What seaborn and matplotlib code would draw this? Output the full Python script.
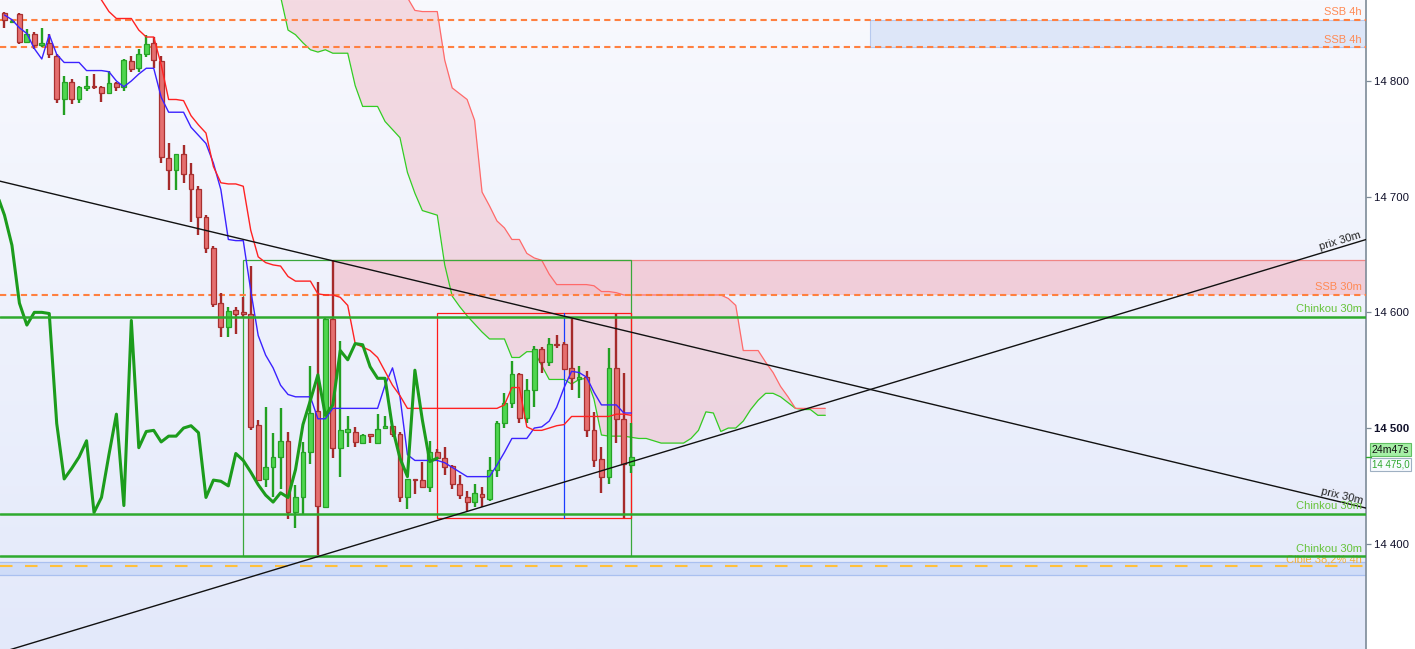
import numpy as np
import pandas as pd
import matplotlib
matplotlib.use("Agg")
import matplotlib.pyplot as plt
import seaborn as sns
from matplotlib.colors import LinearSegmentedColormap
from matplotlib.patches import Rectangle

# ---------------- data ----------------
candle_open = [14859, 14851, 14858, 14834, 14841, 14831, 14833, 14822, 14784, 14799,
               14784, 14794, 14796, 14795, 14790, 14798, 14795, 14817, 14811, 14823,
               14833, 14817, 14733, 14723, 14737, 14720, 14707, 14682, 14656, 14608,
               14587, 14602, 14600, 14599, 14503, 14456, 14466, 14475, 14489, 14427,
               14440, 14479, 14515, 14432, 14594, 14483, 14497, 14497, 14487, 14495,
               14487, 14500, 14502, 14495, 14440, 14456, 14455, 14449, 14479, 14474,
               14467, 14452, 14440, 14436, 14443, 14439, 14464, 14504, 14522, 14547,
               14509, 14533, 14568, 14557, 14573, 14573, 14552, 14542, 14544, 14498,
               14473, 14458, 14552, 14508, 14468]
candle_high = [14860, 14853, 14859, 14845, 14842, 14846, 14841, 14823, 14804, 14802,
               14796, 14804, 14806, 14796, 14809, 14799, 14819, 14822, 14828, 14840,
               14838, 14822, 14746, 14737, 14745, 14729, 14709, 14684, 14657, 14617,
               14605, 14605, 14613, 14640, 14507, 14518, 14496, 14517, 14497, 14451,
               14488, 14554, 14626, 14595, 14645, 14575, 14510, 14501, 14495, 14495,
               14512, 14510, 14502, 14497, 14456, 14456, 14471, 14489, 14482, 14484,
               14468, 14459, 14446, 14452, 14449, 14475, 14506, 14530, 14558, 14548,
               14542, 14571, 14570, 14578, 14580, 14574, 14596, 14554, 14549, 14514,
               14484, 14569, 14599, 14548, 14504]
candle_low = [14846, 14850, 14832, 14833, 14828, 14829, 14820, 14781, 14771, 14780,
              14781, 14791, 14793, 14782, 14790, 14791, 14791, 14808, 14808, 14821,
              14811, 14729, 14706, 14706, 14712, 14678, 14667, 14651, 14605, 14579,
              14579, 14581, 14595, 14498, 14454, 14449, 14440, 14447, 14421, 14414,
              14425, 14469, 14390, 14431, 14474, 14458, 14484, 14484, 14486, 14487,
              14486, 14499, 14492, 14436, 14430, 14443, 14449, 14445, 14473, 14459,
              14447, 14439, 14427, 14432, 14432, 14437, 14458, 14500, 14517, 14504,
              14504, 14518, 14548, 14554, 14569, 14550, 14533, 14526, 14492, 14466,
              14444, 14452, 14487, 14422, 14461]
candle_close = [14853, 14852, 14834, 14841, 14831, 14833, 14823, 14784, 14799, 14784,
                14795, 14796, 14795, 14790, 14798, 14795, 14818, 14810, 14823, 14832,
                14818, 14734, 14723, 14737, 14720, 14707, 14682, 14656, 14607, 14587,
                14601, 14599, 14599, 14501, 14455, 14466, 14475, 14489, 14427, 14440,
                14479, 14513, 14433, 14594, 14483, 14498, 14499, 14488, 14494, 14493,
                14499, 14502, 14495, 14440, 14456, 14455, 14449, 14479, 14474, 14466,
                14452, 14442, 14436, 14444, 14440, 14464, 14504, 14522, 14547, 14509,
                14533, 14568, 14557, 14573, 14572, 14551, 14543, 14544, 14498, 14472,
                14458, 14552, 14508, 14469, 14475]

tenkan = [14857, 14853, 14846, 14841, 14828, 14819, 14840, 14823, 14816, 14816,
          14816, 14809, 14809, 14809, 14808, 14800, 14795, 14800, 14806, 14811,
          14811, 14786, 14773, 14773, 14773, 14760, 14753, 14746, 14729, 14706,
          14663, 14662, 14662, 14619, 14580, 14563, 14552, 14537, 14529, 14527,
          14527, 14527, 14508, 14508, 14517, 14517, 14517, 14517, 14517, 14517,
          14517, 14537, 14552, 14527, 14477, 14472, 14472, 14472, 14472, 14470,
          14466, 14462, 14458, 14458, 14458, 14458, 14468, 14479, 14491, 14491,
          14491, 14500, 14501, 14506, 14518, 14535, 14549, 14548, 14544, 14531,
          14520, 14520, 14520, 14513, 14513]

kijun_start = 12
kijun = [14877, 14870, 14860, 14854, 14854, 14854, 14844, 14838, 14838, 14814,
         14784, 14784, 14783, 14770, 14762, 14755, 14726, 14712, 14711, 14711,
         14709, 14671, 14648, 14643, 14641, 14640, 14631, 14627, 14627, 14627,
         14616, 14615, 14615, 14613, 14606, 14573, 14570, 14567, 14561, 14549,
         14537, 14528, 14517, 14517, 14517, 14517, 14517, 14517, 14517, 14517,
         14517, 14517, 14517, 14517, 14517, 14520, 14535, 14535, 14501, 14498,
         14498, 14500, 14502, 14503, 14510, 14510, 14510, 14510, 14510, 14510,
         14512, 14512, 14511]

chinkou_start = -1
chinkou = [14702, 14684, 14658, 14608, 14589, 14600, 14600, 14599, 14504, 14456,
           14465, 14475, 14489, 14427, 14440, 14477, 14512, 14433, 14593, 14483,
           14497, 14498, 14488, 14493, 14493, 14500, 14502, 14496, 14440, 14455,
           14454, 14450, 14478, 14472, 14462, 14451, 14442, 14436, 14444, 14440,
           14464, 14503, 14524, 14546, 14511, 14520, 14567, 14559, 14573, 14572,
           14553, 14543, 14543, 14500, 14474, 14458, 14550, 14507, 14471, 14474]

span_start = 37
span_a = [14873, 14844, 14840, 14833, 14827, 14825, 14827, 14824, 14824, 14824,
          14796, 14778, 14778, 14778, 14765, 14758, 14751, 14721, 14703, 14688,
          14686, 14684, 14641, 14614, 14605, 14597, 14590, 14583, 14577, 14577,
          14577, 14561, 14561, 14566, 14566, 14554, 14542, 14542, 14542, 14538,
          14542, 14543, 14525, 14494, 14493, 14493, 14493, 14492, 14491, 14491,
          14489, 14487, 14487, 14487, 14487, 14491, 14498, 14514, 14513, 14497,
          14500, 14500, 14506, 14516, 14524, 14530, 14530, 14527, 14522, 14517,
          14516, 14516, 14511, 14511]
span_b = [14900, 14900, 14900, 14900, 14900, 14900, 14900, 14900, 14900, 14900,
          14900, 14900, 14900, 14900, 14900, 14900, 14880, 14872, 14861, 14860,
          14860, 14860, 14818, 14794, 14789, 14784, 14766, 14704, 14692, 14679,
          14673, 14663, 14663, 14651, 14647, 14645, 14633, 14624, 14624, 14624,
          14624, 14624, 14623, 14618, 14618, 14617, 14615, 14615, 14615, 14615,
          14615, 14615, 14615, 14615, 14615, 14615, 14615, 14615, 14615, 14615,
          14612, 14606, 14567, 14567, 14567, 14557, 14548, 14536, 14527, 14517,
          14517, 14517, 14517, 14517]

trend_down_x = [-1, 183]
trend_down_y = [14714, 14430]
trend_up_x = [-1, 183]
trend_up_y = [14305, 14664]

ssb4h_levels = [14853, 14829]
ssb4h_zone_start = 116
ssb30m_level = 14615
chinkou_levels = [14596, 14426, 14389]
cible_level = 14381
cible_band = [14373, 14384]
res_zone = [14615, 14645]
res_zone_start = 44
green_box_x = [32, 84]
green_box_y = [14389, 14645]
red_box_x = [58, 84]
red_box_y = [14422, 14599.5]
blue_line_x = 75

y_ticks = [14400, 14500, 14600, 14700, 14800]
y_tick_labels = ["14 400", "14 500", "14 600", "14 700", "14 800"]
timer_text = "24m47s"
last_price = 14475
last_price_text = "14 475,0"

# ---------------- figure ----------------
sns.set_theme(style="white")
plt.rcParams['font.family'] = ['Liberation Sans', 'DejaVu Sans']

W, H = 1415, 649
fig = plt.figure(figsize=(W / 100, H / 100), dpi=100, facecolor='white')
ax = fig.add_axes([0, 0, 1366 / W, 1])
x_min, x_max = -0.6, 182.46
y_min, y_max = 14309, 14870

bg = LinearSegmentedColormap.from_list('bg', ['#f8f9fe', '#e3e9fa'])
ax.imshow(np.linspace(0, 1, 256).reshape(-1, 1), extent=[x_min, x_max, y_min, y_max],
          aspect='auto', cmap=bg, origin='upper', zorder=0)

n = len(candle_open)
idx = np.arange(n)
o = np.array(candle_open, float); c = np.array(candle_close, float)
hi = np.array(candle_high, float); lo = np.array(candle_low, float)

# zones
ax.add_patch(Rectangle((ssb4h_zone_start, ssb4h_levels[1]), x_max + 5 - ssb4h_zone_start,
                       ssb4h_levels[0] - ssb4h_levels[1], facecolor='#dde6f8',
                       edgecolor='#b7c9ee', linewidth=0.8, zorder=1))
ax.add_patch(Rectangle((x_min - 5, cible_band[0]), x_max - x_min + 10, cible_band[1] - cible_band[0],
                       facecolor='#cfdcf8', edgecolor='#a9c0f0', linewidth=0.9, zorder=1))
ax.add_patch(Rectangle((res_zone_start, res_zone[0]), x_max + 5 - res_zone_start,
                       res_zone[1] - res_zone[0], facecolor='#f3aab8', alpha=0.5,
                       edgecolor='none', zorder=1))
ax.plot([res_zone_start, x_max + 5], [res_zone[1]] * 2, color='#f08585', lw=0.9, zorder=2)

# cloud
sx = np.arange(span_start, span_start + len(span_a))
ax.fill_between(sx, span_a, span_b, color='#f1bcc7', alpha=0.5, linewidth=0, zorder=1.5)
sns.lineplot(x=sx, y=span_a, ax=ax, color='#33cc22', linewidth=0.9, estimator=None, sort=False, zorder=2)
sns.lineplot(x=sx, y=span_b, ax=ax, color='#ff6a6a', linewidth=0.9, estimator=None, sort=False, zorder=2)

# boxes
ax.add_patch(Rectangle((green_box_x[0], green_box_y[0]), green_box_x[1] - green_box_x[0],
                       green_box_y[1] - green_box_y[0], facecolor='none',
                       edgecolor='#3aa83a', linewidth=0.9, zorder=3))
ax.add_patch(Rectangle((red_box_x[0], red_box_y[0]), red_box_x[1] - red_box_x[0],
                       red_box_y[1] - red_box_y[0], facecolor='none',
                       edgecolor='#ff1a1a', linewidth=0.9, zorder=3))
ax.plot([blue_line_x, blue_line_x], red_box_y, color='#1a3cff', lw=0.9, zorder=3)

# dashed levels
for lv in ssb4h_levels + [ssb30m_level]:
    ax.axhline(lv, color='#ff8040', lw=1.5, dashes=(3, 2), zorder=3)
ax.axhline(cible_level, color='#ffc03c', lw=1.5, dashes=(6, 6), zorder=3)

# candles
up = c >= o
fills = np.where(up, '#4fd64f', '#e56f6f')
edges = np.where(up, '#26a226', '#a83030')
wicks = np.where(up, '#22a022', '#a52a2a')
ax.vlines(idx, lo, hi, colors=wicks, linewidth=1.7, zorder=4)
ax.bar(idx, c - o, bottom=o, width=0.64, color=fills, edgecolor=edges, linewidth=0.9, zorder=5)

# Ichimoku lines
sns.lineplot(x=idx, y=tenkan, ax=ax, color='#3b22ff', linewidth=1.0, estimator=None, sort=False, zorder=6)
kx = np.arange(kijun_start, kijun_start + len(kijun))
sns.lineplot(x=kx, y=kijun, ax=ax, color='#ff2222', linewidth=1.0, estimator=None, sort=False, zorder=6)
cx = np.arange(chinkou_start, chinkou_start + len(chinkou))
sns.lineplot(x=cx, y=chinkou, ax=ax, color='#1c9c1c', linewidth=2.2, estimator=None, sort=False, zorder=6)

# horizontal chinkou levels
for lv in chinkou_levels:
    ax.axhline(lv, color='#2eaa2e', lw=1.8, zorder=6)

# trend lines
ax.plot(trend_down_x, trend_down_y, color='#111111', lw=1.0, zorder=6)
ax.plot(trend_up_x, trend_up_y, color='#111111', lw=1.0, zorder=6)

# right-hand labels
tr = ax.get_yaxis_transform()
xr = 1362 / 1366
lab = dict(xycoords=tr, textcoords='offset points', ha='right', va='bottom', fontsize=8)
for lv in ssb4h_levels:
    ax.annotate("SSB 4h", xy=(xr, lv), xytext=(0, 2), color='#ff8a55', zorder=7, **lab)
ax.annotate("SSB 30m", xy=(xr, ssb30m_level), xytext=(0, 2), color='#ff8a55', zorder=7, **lab)
for lv in chinkou_levels:
    ax.annotate("Chinkou 30m", xy=(xr, lv), xytext=(0, 2), color='#66c33a', zorder=7, **lab)
ax.annotate("Cible 38,2% 4h", xy=(xr, cible_level), xytext=(0, 1), color='#f2b03a', zorder=5, **lab)

x_lab = (1362 - 4.5) / 7.462
y_up = np.interp(x_lab, trend_up_x, trend_up_y)
y_dn = np.interp(x_lab, trend_down_x, trend_down_y)
ax.annotate("prix 30m", xy=(x_lab, y_up), xytext=(0, 1), textcoords='offset points',
            ha='right', va='bottom', rotation=16.8, rotation_mode='anchor',
            fontsize=8, color='#222222', zorder=7)
ax.annotate("prix 30m", xy=(x_lab, y_dn), xytext=(0, 1), textcoords='offset points',
            ha='right', va='bottom', rotation=-13.5, rotation_mode='anchor',
            fontsize=8, color='#222222', zorder=7)

# axes styling
ax.set_xlim(x_min, x_max)
ax.set_ylim(y_min, y_max)
ax.set_xticks([])
for s in ['top', 'left', 'bottom']:
    ax.spines[s].set_visible(False)
ax.spines['right'].set_color('#7d8b98')
ax.spines['right'].set_linewidth(1.2)
ax.yaxis.tick_right()
ax.set_yticks(y_ticks)
ax.set_yticklabels(y_tick_labels)
ax.tick_params(axis='y', direction='out', length=3.5, width=0.9, colors='#7d8b98',
               labelcolor='#10102a', labelsize=8.2, pad=2)
for t in ax.get_yticklabels():
    if t.get_text() == "14 500":
        t.set_fontweight('bold')

# price marker boxes
ax.plot([1.0, 1.004], [last_price, last_price], transform=tr, color='#2eaa2e', lw=1, clip_on=False, zorder=8)
ax.annotate(timer_text, xy=(1.0, last_price), xycoords=tr, xytext=(4, 1.5), textcoords='offset points',
            ha='left', va='bottom', fontsize=7.6, color='#111111', annotation_clip=False,
            bbox=dict(boxstyle='square,pad=0.15', facecolor='#a6efa6', edgecolor='#63c063', lw=0.8))
ax.annotate(last_price_text, xy=(1.0, last_price), xycoords=tr, xytext=(4, -1.5), textcoords='offset points',
            ha='left', va='top', fontsize=7.0, color='#2fa82f', annotation_clip=False,
            bbox=dict(boxstyle='square,pad=0.15', facecolor='#f7fbff', edgecolor='#9fb0c2', lw=0.8))

fig.savefig('out.png', dpi=100, facecolor='white')
